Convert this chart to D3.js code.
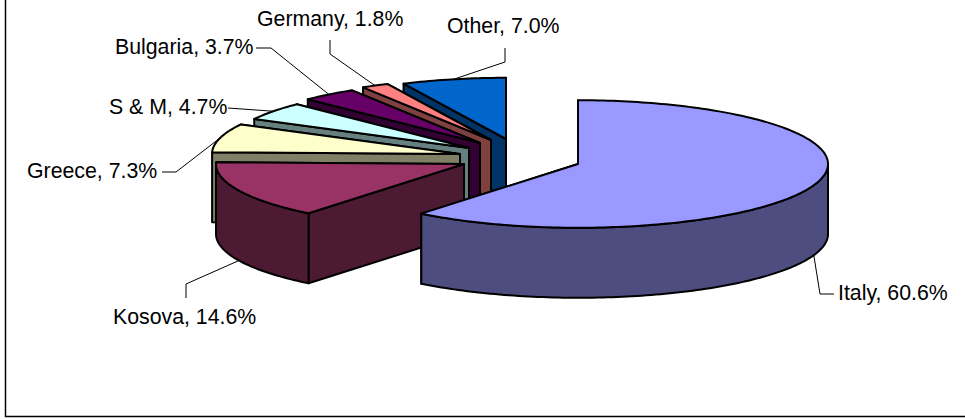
<!DOCTYPE html>
<html>
<head>
<meta charset="utf-8">
<script src="https://cdn.jsdelivr.net/npm/d3@7/dist/d3.min.js"></script>
<style>
html,body{margin:0;padding:0;background:#fff;overflow:hidden}
svg{display:block}
text{font-family:"Liberation Sans",Arial,sans-serif;font-size:21.3px;fill:#000}
</style>
</head>
<body>
<script>
// Data
const regions = ["Italy","Kosova","Greece","S & M","Bulgaria","Germany","Other"];
const shares = [60.6,14.6,7.3,4.7,3.7,1.8,7.0];
// Styles
const topColors = ["#9999FF","#993366","#FFFFCC","#CCFFFF","#660066","#FF8080","#0066CC"];
const sideColors = ["#4D4D80","#4D1A33","#808066","#668080","#330033","#804040","#003366"];
// Layout: where each exploded slice sits
const apexX = [578,464,460,469,480,491,506];
const apexY = [164,164,154,148,143,140,139];
const radiusX = [250,248,248,243,243,243,240];
const tilt = 0.255, depth = 70;
const labelX = [838,113,27,109,115,257,447];
const labelY = [300,324,178,114,54,26,33];
// Leader routing: [elbow..., end] for each label
const leaders = [
  [[820,294],[834,294]],
  [[186,284],[186,298]],
  [[176,172],[162,172]],
  [[228,108]],
  [[271,48],[256,48]],
  [[330,54],[330,40]],
  [[505,62],[505,48]]
];
const leaderOnWall = [true,true,false,false,false,false,false];

const W = 965, H = 419;
const svg = d3.select("body").append("svg").attr("width",W).attr("height",H);
svg.append("path").attr("d",d3.line()([[5.5,0],[5.5,416.5],[W,416.5]]))
  .attr("fill","none").attr("stroke","#000").attr("stroke-width",1.5);

const arcs = d3.pie().sort(null).value(d=>d)(shares);
const line = d3.line();
const closed = d3.line().curve(d3.curveLinearClosed);

function slice(i){
  const rx = radiusX[i], ry = rx*tilt;
  const xs = d3.scaleLinear().domain([-1,1]).range([apexX[i]-rx,apexX[i]+rx]);
  const ys = d3.scaleLinear().domain([-1,1]).range([apexY[i]-ry,apexY[i]+ry]);
  const pt = (a,z=0)=>[xs(Math.sin(a)),ys(-Math.cos(a))+z];
  const rim = (a0,a1,z=0)=>{
    const n = Math.max(2,Math.ceil((a1-a0)/0.02));
    return d3.range(n+1).map(k=>pt(a0+(a1-a0)*k/n,z));
  };
  return {pt,rim,apex:[xs(0),ys(0)]};
}

const pie = svg.append("g").attr("stroke","#000").attr("stroke-width",2).attr("stroke-linejoin","round");
// Painter order: back slices first, Italy last
const order = d3.range(regions.length).reverse();
order.forEach(i=>{
  const s = slice(i), a = arcs[i], g = pie.append("g");
  const [ax,ay] = s.apex;
  // radial walls, the rear one first
  [a.startAngle,a.endAngle].sort((p,q)=>Math.cos(q)-Math.cos(p)).forEach(t=>{
    g.append("path").attr("fill",sideColors[i])
      .attr("d",closed([[ax,ay],s.pt(t),s.pt(t,depth),[ax,ay+depth]]));
  });
  // outer wall, only the part facing the viewer
  const a0 = Math.max(a.startAngle,Math.PI/2), a1 = Math.min(a.endAngle,Math.PI*1.5);
  if(a1>a0){
    g.append("path").attr("fill",sideColors[i])
      .attr("d",closed(s.rim(a0,a1).concat(s.rim(a0,a1,depth).reverse())));
  }
  // top face
  g.append("path").attr("fill",topColors[i])
    .attr("d",closed([[ax,ay]].concat(s.rim(a.startAngle,a.endAngle))));
});

// Leader lines start on the rim at the slice's mid-angle
const lg = svg.append("g").attr("fill","none").attr("stroke","#000").attr("stroke-width",1);
regions.forEach((r,i)=>{
  const mid = (arcs[i].startAngle+arcs[i].endAngle)/2;
  const start = slice(i).pt(mid,leaderOnWall[i]?depth:0);
  lg.append("path").attr("d",line([start].concat(leaders[i])));
});

svg.append("g").selectAll("text").data(regions).join("text")
  .attr("x",(d,i)=>labelX[i]).attr("y",(d,i)=>labelY[i])
  .text((d,i)=>`${d}, ${shares[i].toFixed(1)}%`);
</script>
</body>
</html>
